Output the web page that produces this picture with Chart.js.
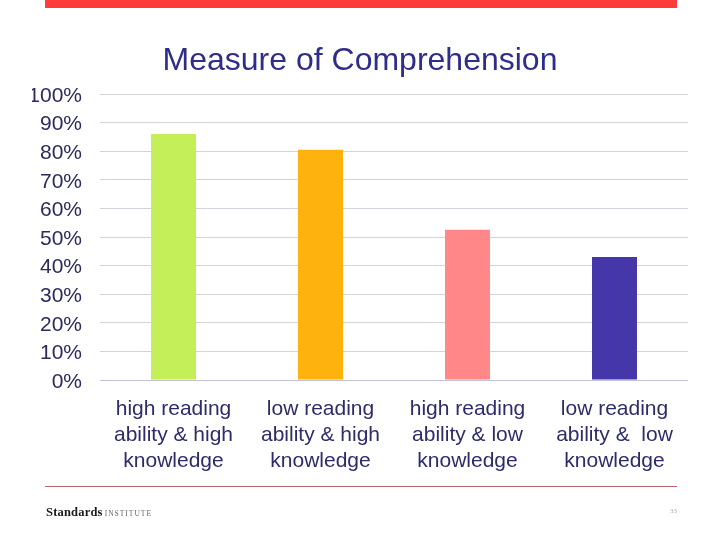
<!DOCTYPE html>
<html>
<head>
<meta charset="utf-8">
<script src="https://cdn.jsdelivr.net/npm/chart.js@4"></script>
<style>
  html, body { margin: 0; padding: 0; background: #ffffff; }
  #wrap { position: relative; width: 720px; height: 540px; overflow: hidden; background: #fff; }
  #c { position: absolute; left: 0; top: 0; }
  .topbar { position: absolute; left: 45px; top: 0; width: 632px; height: 8px; background: #ff3c3c; }
  .footline { position: absolute; left: 45px; top: 486px; width: 632px; height: 1px; background: #b9646b; }
  .logo { position: absolute; left: 46px; top: 502px; font-family: "Liberation Serif", "DejaVu Serif", serif; white-space: nowrap; }
  .logo b { font-size: 12.5px; color: #1a1a1a; letter-spacing: 0.2px; }
  .logo span { font-size: 7.5px; color: #666; letter-spacing: 1px; margin-left: -2px; }
  .pagenum { position: absolute; left: 670px; top: 507px; font-family: "Liberation Serif", serif; font-size: 7px; color: #aaa; }
</style>
</head>
<body>
<div id="wrap">
  <canvas id="c" width="720" height="540"></canvas>
  <div class="topbar"></div>
  <div class="footline"></div>
  <div class="logo"><b>Standards</b> <span>INSTITUTE</span></div>
  <div class="pagenum">33</div>
</div>
<script>
const categories = [
  ["high reading", "ability & high", "knowledge"],
  ["low reading", "ability & high", "knowledge"],
  ["high reading", "ability & low", "knowledge"],
  ["low reading", "ability &  low", "knowledge"]
];
const comprehension = [86, 80.5, 52.5, 43];
const barColors = ["#c5ef58", "#fdb20e", "#ff8787", "#4537a9"];
const yTickLabels = ["0%", "10%", "20%", "30%", "40%", "50%", "60%", "70%", "80%", "90%", "100%"];
const chartTitle = "Measure of Comprehension";

const FONT = '"Liberation Sans", Arial, sans-serif';

new Chart(document.getElementById('c'), {
  type: 'bar',
  data: {
    labels: categories,
    datasets: [{
      data: comprehension,
      backgroundColor: barColors,
      borderWidth: 0,
      categoryPercentage: 1,
      barPercentage: 0.306
    }]
  },
  options: {
    responsive: false,
    devicePixelRatio: 1,
    animation: false,
    layout: { padding: { left: 32, right: 32, top: 0, bottom: 0 } },
    plugins: {
      legend: { display: false },
      tooltip: { enabled: false },
      title: {
        display: true,
        text: chartTitle,
        color: '#2e2e8a',
        font: { family: FONT, size: 32, weight: 'normal', lineHeight: 1.2 },
        padding: { top: 42, bottom: 13.6 }
      }
    },
    scales: {
      x: {
        grid: { display: false, drawTicks: false },
        border: { display: false },
        ticks: {
          color: '#2c2c6c',
          font: { family: FONT, size: 21, lineHeight: 26 / 21 },
          padding: 16,
          maxRotation: 0,
          autoSkip: false
        },
        afterFit: (s) => { s.height = 160; }
      },
      y: {
        min: 0,
        max: 100,
        grid: {
          drawTicks: false,
          color: (ctx) => ctx.tick && ctx.tick.value === 0 ? '#c2c2d6' : '#d3d3de',
          lineWidth: 1
        },
        border: { display: false },
        ticks: {
          stepSize: 10,
          color: '#2b2b5e',
          font: { family: FONT, size: 21 },
          padding: 18,
          labelOffset: 2,
          callback: (v, i) => yTickLabels[i]
        },
        afterFit: (s) => { s.width = 68; }
      }
    }
  }
});
</script>
</body>
</html>
